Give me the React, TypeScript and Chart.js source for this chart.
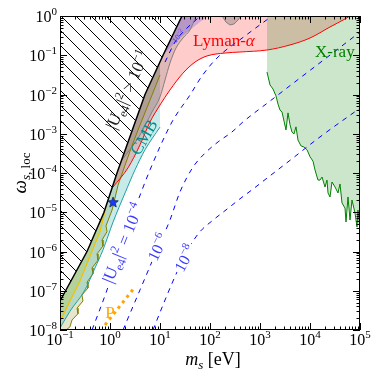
import React, { useEffect, useRef } from 'react';
import { Chart, registerables } from 'chart.js';

Chart.register(...registerables);

// ---------------- data (m_s in eV, omega_s,loc) ----------------
// |U_e4|^2 = 1e-1 boundary (hatched region to the left)
const BOUND_M = [0.1, 0.347, 0.759, 1.38, 2.63, 5.01, 11.5, 27.5];
const BOUND_W = [5.5e-8, 1e-6, 1e-5, 1e-4, 1e-3, 1e-2, 1e-1, 1];

// dashed iso-mixing lines
const U2_M = [12.6, 20, 31.6, 55, 63.1];
const U2_W = [0.067, 0.218, 0.44, 0.84, 1];
const U4_M = [0.437, 0.871, 1.58, 2.75, 6.31, 17.4, 39.8, 69.2, 138, 501, 1738];
const U4_W = [1e-8, 1.05e-7, 1.1e-6, 7.6e-6, 1.2e-4, 0.002, 0.0097, 0.0296, 0.085, 0.31, 1];
const U6_M = [1.82, 3.98, 8.71, 15.8, 25.1, 45.7, 79.4, 145, 275, 457, 1585, 6310, 25119, 100000];
const U6_W = [1e-8, 1.05e-7, 1.1e-6, 6.3e-6, 3.3e-5, 1.41e-4, 3.2e-4, 6.2e-4, 1.11e-3, 2.0e-3, 6.8e-3, 0.0263, 0.101, 0.39];
const U8_M = [7.24, 12.6, 22.9, 39.8, 63.1, 115, 219, 398, 724, 1380, 3981, 15849, 100000];
const U8_W = [1e-8, 5.8e-8, 3.4e-7, 1.38e-6, 3.2e-6, 6.3e-6, 1.2e-5, 2.2e-5, 3.9e-5, 7.4e-5, 2.1e-4, 8.3e-4, 4.5e-3];

// Lyman-alpha lower edge
const RED_M = [1.15, 2.29, 3.98, 6.31, 10, 15.8, 28.8, 50.1, 87.1, 200, 398, 1380, 3981, 10000, 25119, 50119, 63096];
const RED_W = [4.4e-5, 1.35e-4, 5.2e-4, 2.0e-3, 5.4e-3, 0.013, 0.035, 0.067, 0.096, 0.114, 0.121, 0.136, 0.183, 0.275, 0.525, 0.84, 1];

// CMB edge
const CMB_M = [0.1, 0.158, 0.316, 0.501, 0.724, 1.15, 2.0, 3.16, 5.01, 10];
const CMB_W = [1.12e-8, 3.0e-8, 1.05e-7, 3.8e-7, 1.1e-6, 5.6e-6, 3.1e-5, 1.2e-4, 3.9e-4, 1.48e-3];
const CMB_EDGE_TOP = 0.069;

// olive jagged bound
const OLIVE_M = [10, 6.31, 3.98, 2.88, 2.0, 1.45, 1.10, 0.832, 0.871, 0.692, 0.724, 0.550, 0.575, 0.437, 0.457, 0.347, 0.363, 0.275, 0.288, 0.219, 0.229, 0.174, 0.158, 0.132];
const OLIVE_W = [0.0315, 0.0072, 0.00167, 5.8e-4, 1.59e-4, 4.9e-5, 1.14e-5, 4.5e-6, 3.2e-6, 1.96e-6, 1.38e-6, 8.7e-7, 6.0e-7, 3.8e-7, 2.7e-7, 1.66e-7, 1.18e-7, 7.8e-8, 5.5e-8, 3.6e-8, 2.6e-8, 1.8e-8, 1.2e-8, 1e-8];

// yellow bound
const YEL_M = [0.1, 0.158, 0.251, 0.398, 0.631, 0.832];
const YEL_W = [1.6e-8, 5.5e-8, 1.78e-7, 7.7e-7, 3.2e-6, 1.36e-5];

// gray bound near the edge + small gray bump at top
const GRAY_M = [1.74, 3.98, 6.92, 10, 12.6, 15.8, 20.9, 28.8, 39.8, 52.5];
const GRAY_W = [2.14e-4, 9.3e-4, 3.6e-3, 8.7e-3, 0.0234, 0.063, 0.153, 0.275, 0.44, 1];
const BUMP_M = [174, 209, 251, 302, 363, 417];
const BUMP_W = [1, 0.70, 0.59, 0.625, 0.79, 1];

// blue region at top
const BLUE_M = [11.5, 27.5, 91.2, 63.1, 39.8, 25.1, 18.2];
const BLUE_W = [0.101, 1, 1, 0.70, 0.44, 0.275, 0.183];

// X-ray bound
const XRAY_M = [1380, 1585, 1820, 2089, 2291, 2512, 2754, 3020, 3311, 3631, 3981, 4365, 4786, 5248, 5754, 6607, 7586, 8710, 10000, 11482, 12589, 14454, 15849, 17378, 19953, 21878, 22909, 25119, 27542, 31623, 36308, 39811, 43652, 50119, 52481, 57544, 63096, 69183, 79433, 87096, 91201, 100000];
const XRAY_W = [0.0374, 0.0175, 0.0138, 0.0092, 0.0057, 0.0040, 0.0036, 0.0021, 0.00125, 0.0034, 0.0017, 0.0011, 0.00099, 0.0015, 0.00069, 0.00049, 0.00046, 0.00039, 0.00026, 0.0002, 0.00012, 6.6e-5, 6.6e-5, 7.9e-5, 4.4e-5, 6.6e-5, 3.1e-5, 2.45e-5, 5.9e-5, 4.4e-5, 3.1e-5, 5.25e-5, 1.72e-5, 1.28e-5, 5.65e-6, 2.45e-5, 6.35e-6, 2.05e-5, 9.6e-6, 4.2e-6, 1.14e-5, 3.5e-6];

// "P" dotted line and the star
const P_M = [0.794, 3.16];
const P_W = [1.34e-8, 1.25e-7];
const STAR_M = [1.15];
const STAR_W = [1.82e-5];

// axis ticks
const X_MIN = 0.1, X_MAX = 1e5, Y_MIN = 1e-8, Y_MAX = 1;
const X_TICK_EXP = [-1, 0, 1, 2, 3, 4, 5];
const Y_TICK_EXP = [0, -1, -2, -3, -4, -5, -6, -7, -8];

// ---------------- text helpers ----------------
const SERIF = '"Liberation Serif", "DejaVu Serif", serif';
type Seg = { t: string; s: number; i?: boolean; dy?: number };
const fontOf = (g: Seg) => `${g.i ? 'italic ' : ''}${g.s}px ${SERIF}`;

function drawRich(ctx: CanvasRenderingContext2D, segs: Seg[], x: number, y: number, angle: number, color: string, align: string, vOff: number, bg = false) {
  ctx.save();
  ctx.translate(x, y);
  ctx.rotate((angle * Math.PI) / 180);
  ctx.textAlign = 'left';
  ctx.textBaseline = 'alphabetic';
  const widths = segs.map((g) => { ctx.font = fontOf(g); return ctx.measureText(g.t).width; });
  const total = widths.reduce((p, q) => p + q, 0);
  let cx = align === 'left' ? 0 : align === 'center' ? -total / 2 : -total;
  if (bg) {
    const big = Math.max(...segs.map((g) => g.s));
    ctx.fillStyle = '#ffffff';
    ctx.fillRect(cx - 2, vOff - big * 0.95, total + 4, big * 1.25);
  }
  ctx.fillStyle = color;
  segs.forEach((g, k) => { ctx.font = fontOf(g); ctx.fillText(g.t, cx, vOff + (g.dy || 0)); cx += widths[k]; });
  ctx.restore();
}

const expText = (e: number) => (e < 0 ? '\u2212' + String(-e) : String(e));
const BLUE_TXT = '#3c3cff';

const ANNOTATIONS: { segs: Seg[]; m: number; w: number; angle: number; color: string; align: string; v: number; bg?: boolean }[] = [
  { segs: [{ t: 'Lyman-', s: 17 }, { t: '\u03b1', s: 17, i: true }], m: 45.7, w: 0.245, angle: 0, color: '#ff0000', align: 'left', v: 6 },
  { segs: [{ t: 'X-ray', s: 17 }], m: 12589, w: 0.128, angle: 0, color: '#008000', align: 'left', v: 6 },
  { segs: [{ t: 'CMB', s: 17 }], m: 4.68, w: 8.3e-4, angle: -60, color: '#008b8b', align: 'center', v: 6 },
  { segs: [{ t: '|U', s: 17 }, { t: 'e4', s: 12, dy: 4 }, { t: '|', s: 17 }, { t: '2', s: 12, dy: -7 }, { t: ' > 10', s: 17 }, { t: '\u22121', s: 12, dy: -7 }], m: 2.29, w: 0.013, angle: -66, color: '#222222', align: 'center', v: 5 },
  { segs: [{ t: '|U', s: 17 }, { t: 'e4', s: 12, dy: 4 }, { t: '|', s: 17 }, { t: '2', s: 12, dy: -7 }, { t: ' = 10', s: 17 }, { t: '\u22124', s: 12, dy: -7 }], m: 1.78, w: 1.65e-6, angle: -68, color: BLUE_TXT, align: 'center', v: 6, bg: true },
  { segs: [{ t: '10', s: 16 }, { t: '\u22126', s: 11, dy: -7 }], m: 8.9, w: 1.3e-6, angle: -64, color: BLUE_TXT, align: 'center', v: 6, bg: true },
  { segs: [{ t: '10', s: 16 }, { t: '\u22128', s: 11, dy: -7 }], m: 31.0, w: 6.8e-7, angle: -62, color: BLUE_TXT, align: 'center', v: 6, bg: true },
  { segs: [{ t: '10', s: 8 }, { t: '\u22122', s: 6, dy: -3 }], m: 22.9, w: 0.31, angle: -50, color: BLUE_TXT, align: 'center', v: 3 },
  { segs: [{ t: 'P', s: 17 }], m: 1.0, w: 2.9e-8, angle: 0, color: '#ffa500', align: 'center', v: 6 },
];

function makeHatch(): CanvasPattern | string {
  const s = 15;
  const c = document.createElement('canvas');
  c.width = s; c.height = s;
  const g = c.getContext('2d');
  if (!g) return 'rgba(0,0,0,0)';
  g.strokeStyle = '#000';
  g.lineWidth = 1;
  g.beginPath();
  g.moveTo(0, 0); g.lineTo(s, s);
  g.moveTo(-2, s - 2); g.lineTo(2, s + 2);
  g.moveTo(s - 2, -2); g.lineTo(s + 2, 2);
  g.stroke();
  return g.createPattern(c, 'repeat') || 'rgba(0,0,0,0)';
}

function makeStar(): HTMLCanvasElement {
  const s = 12;
  const c = document.createElement('canvas');
  c.width = s; c.height = s;
  const g = c.getContext('2d');
  if (g) {
    g.beginPath();
    for (let k = 0; k < 10; k++) {
      const r = k % 2 === 0 ? 5.5 : 2.3;
      const a = -Math.PI / 2 + (k * Math.PI) / 5;
      const px = s / 2 + r * Math.cos(a), py = s / 2 + 0.5 + r * Math.sin(a);
      if (k === 0) g.moveTo(px, py); else g.lineTo(px, py);
    }
    g.closePath();
    g.fillStyle = '#1a3cff';
    g.fill();
    g.strokeStyle = '#0b2060';
    g.lineWidth = 0.8;
    g.stroke();
  }
  return c;
}

const pts = (xs: number[], ys: number[]) => xs.map((v, k) => ({ x: v, y: ys[k] }));

export default function App() {
  const ref = useRef<HTMLCanvasElement>(null);

  useEffect(() => {
    const canvas = ref.current;
    if (!canvas) return;
    const hatch = makeHatch();
    const star = makeStar();

    const bound = pts(BOUND_M, BOUND_W);
    const poly = (data: any[], color: any) => ({ data, fill: 'shape', backgroundColor: color, borderWidth: 0, borderColor: 'rgba(0,0,0,0)', pointRadius: 0, tension: 0 });
    const line = (data: any[], color: string, width: number, extra: any = {}) => ({ data, fill: false, borderColor: color, borderWidth: width, pointRadius: 0, tension: 0, ...extra });
    const smooth = { cubicInterpolationMode: 'monotone' };

    const yellowPoly = [...pts(YEL_M, YEL_W), ...bound.slice(0, 3).reverse()];
    const olivePoly = [...pts(OLIVE_M, OLIVE_W), { x: X_MIN, y: Y_MIN }, ...bound.slice(0, 6), { x: 10, y: CMB_EDGE_TOP }];
    const cmbPoly = [...pts(CMB_M, CMB_W), { x: 10, y: CMB_EDGE_TOP }, ...bound.slice(0, 6).reverse()];
    const pinkPoly = [...pts(RED_M, RED_W), ...bound.slice(3).reverse()];
    const xrayPoly = [...pts(XRAY_M, XRAY_W), { x: X_MAX, y: Y_MAX }, { x: XRAY_M[0], y: Y_MAX }];
    const grayPoly = [...pts(GRAY_M, GRAY_W), ...bound.slice(4).reverse()];
    const hatchPoly = [{ x: X_MIN, y: Y_MAX }, ...bound];

    const datasets: any[] = [
      poly(yellowPoly, 'rgba(255,225,0,0.25)'),
      poly(olivePoly, 'rgba(128,128,0,0.2)'),
      poly(cmbPoly, 'rgba(0,165,165,0.22)'),
      poly(pinkPoly, 'rgba(255,0,0,0.2)'),
      poly(xrayPoly, 'rgba(0,128,0,0.2)'),
      poly(grayPoly, 'rgba(110,110,110,0.22)'),
      poly(pts(BUMP_M, BUMP_W), 'rgba(110,110,110,0.35)'),
      poly(pts(BLUE_M, BLUE_W), 'rgba(0,0,255,0.18)'),
      poly(hatchPoly, hatch),
      line(pts(YEL_M, YEL_W), '#f2c200', 1.2),
      line(pts(OLIVE_M, OLIVE_W), '#808000', 1),
      line(pts(CMB_M, CMB_W), '#20a0a0', 1, smooth),
      line(pts(RED_M, RED_W), '#ff0000', 1, smooth),
      line(pts(XRAY_M, XRAY_W), '#008000', 1),
      line(pts(GRAY_M, GRAY_W), '#808080', 1, smooth),
      line(pts(BUMP_M, BUMP_W), '#808080', 1),
      line(pts(U2_M, U2_W), '#0000ff', 1, { ...smooth, borderDash: [5, 5] }),
      line(pts(U4_M, U4_W), '#0000ff', 1, { ...smooth, borderDash: [5, 5] }),
      line(pts(U6_M, U6_W), '#0000ff', 1, { ...smooth, borderDash: [5, 5] }),
      line(pts(U8_M, U8_W), '#0000ff', 1, { ...smooth, borderDash: [5, 5] }),
      line(pts(P_M, P_W), '#ffa500', 3, { borderDash: [3, 4] }),
      line(bound, '#000000', 1.5),
      { data: pts(STAR_M, STAR_W), showLine: false, pointStyle: star, pointRadius: 6, fill: false },
    ];
    datasets.forEach((d, k) => { d.order = -k; });

    const decor = {
      id: 'decor',
      afterDatasetsDraw(chart: any) {
        const { ctx, chartArea: a, scales } = chart;
        const xs = scales.x, ys = scales.y;
        ctx.save();
        ctx.beginPath();
        ctx.rect(a.left, a.top, a.right - a.left, a.bottom - a.top);
        ctx.save();
        ctx.clip();
        for (const L of ANNOTATIONS) {
          drawRich(ctx, L.segs, xs.getPixelForValue(L.m), ys.getPixelForValue(L.w), L.angle, L.color, L.align, L.v, !!L.bg);
        }
        ctx.restore();
        ctx.strokeStyle = '#000';
        ctx.lineWidth = 1;
        ctx.strokeRect(a.left + 0.5, a.top + 0.5, a.right - a.left - 1, a.bottom - a.top - 1);
        const seg = (x1: number, y1: number, x2: number, y2: number) => { ctx.beginPath(); ctx.moveTo(x1, y1); ctx.lineTo(x2, y2); ctx.stroke(); };
        for (const e of X_TICK_EXP) {
          for (let k = 1; k <= 9; k++) {
            const v = k * Math.pow(10, e);
            if (v > X_MAX * 1.0001) break;
            const px = Math.round(xs.getPixelForValue(v)) + 0.5;
            const len = k === 1 ? 7 : 3.5;
            seg(px, a.bottom, px, a.bottom - len);
            seg(px, a.top, px, a.top + len);
          }
          const px = xs.getPixelForValue(Math.pow(10, e));
          drawRich(ctx, [{ t: '10', s: 16 }, { t: expText(e), s: 11, dy: -7 }], px, a.bottom + 15, 0, '#000', 'center', 0);
        }
        for (const e of Y_TICK_EXP) {
          for (let k = 1; k <= 9; k++) {
            const v = k * Math.pow(10, e);
            if (v > Y_MAX * 1.0001) break;
            const py = Math.round(ys.getPixelForValue(v)) + 0.5;
            const len = k === 1 ? 7 : 3.5;
            seg(a.left, py, a.left + len, py);
            seg(a.right, py, a.right - len, py);
          }
          const py = ys.getPixelForValue(Math.pow(10, e));
          drawRich(ctx, [{ t: '10', s: 16 }, { t: expText(e), s: 11, dy: -7 }], a.left - 3, py + 6, 0, '#000', 'right', 0);
        }
        drawRich(ctx, [{ t: 'm', s: 18, i: true }, { t: 's', s: 13, i: true, dy: 4 }, { t: ' [eV]', s: 18 }], (a.left + a.right) / 2 + 3, a.bottom + 35, 0, '#000', 'center', 0);
        drawRich(ctx, [{ t: '\u03c9', s: 19, i: true }, { t: 's, ', s: 13, i: true, dy: 4 }, { t: 'loc', s: 13, dy: 4 }], a.left - 34, (a.top + a.bottom) / 2, -90, '#000', 'center', 0);
        ctx.restore();
      },
    };

    const chart = new Chart(canvas, {
      type: 'line',
      data: { datasets },
      options: {
        responsive: false,
        animation: false,
        devicePixelRatio: 1,
        events: [],
        layout: { padding: { left: 60, right: 19, top: 16, bottom: 49 } },
        plugins: { legend: { display: false }, tooltip: { enabled: false } },
        scales: {
          x: { type: 'logarithmic', min: X_MIN, max: X_MAX, display: false },
          y: { type: 'logarithmic', min: Y_MIN, max: Y_MAX, display: false },
        },
      } as any,
      plugins: [decor],
    });
    return () => chart.destroy();
  }, []);

  return (
    <div style={{ position: 'fixed', left: 0, top: 0, width: 379, height: 379, background: '#fff' }}>
      <canvas ref={ref} width={379} height={379} style={{ display: 'block' }} />
    </div>
  );
}
